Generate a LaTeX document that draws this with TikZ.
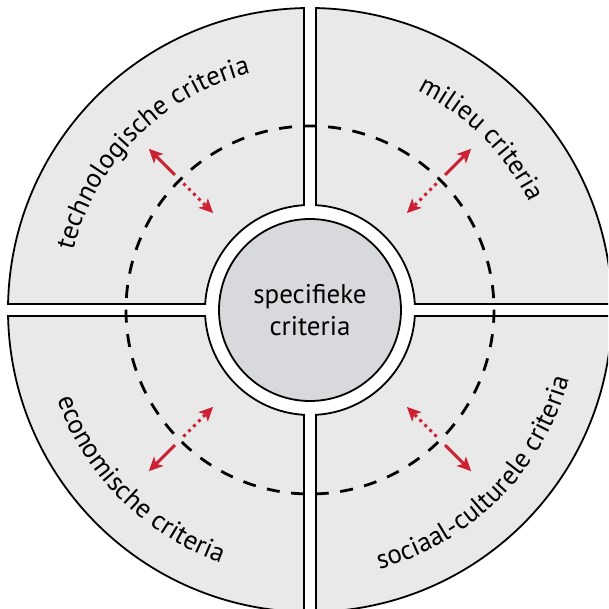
\documentclass[tikz,border=0pt]{standalone}
\usepackage{fontspec}
\setmainfont{PT Sans}
\usetikzlibrary{arrows.meta, decorations.text}
\definecolor{segmentgrey}{RGB}{233,233,233}
\definecolor{coregrey}{RGB}{216,217,220}
\definecolor{arrowred}{RGB}{204,33,51}
\tikzstyle{quadrant} = [draw=black, line width=1.8pt, fill=segmentgrey]
\tikzstyle{core} = [circle, minimum size=182pt, draw=black, line width=1.8pt, fill=coregrey, align=center, font=\fontsize{27}{32}\selectfont]
\tikzstyle{ring} = [line width=2.8pt, dash pattern=on 13pt off 11.6pt, dash phase=12.7pt]
\tikzstyle{arrow} = [line width=3pt, arrowred, -{Stealth[length=14pt, width=13pt, inset=3.5pt]}]
\tikzstyle{dotarrow} = [arrow, dash pattern=on 3pt off 4pt]
\tikzstyle{curvedtext} = [decorate, decoration={text along path, text align=center, text format delimiters={|}{|}}]

\begin{document}
\begin{tikzpicture}

\useasboundingbox (-310pt,-299pt) rectangle (298pt,310pt);
\clip (-310pt,-299pt) rectangle (298pt,310pt);

% four segments
\draw [quadrant] (88.862:302pt) arc[start angle=88.862, end angle=1.138, radius=302pt] -- (3.276:105pt) arc[start angle=3.276, end angle=86.724, radius=105pt] -- cycle;
\draw [quadrant] (178.862:302pt) arc[start angle=178.862, end angle=91.138, radius=302pt] -- (93.276:105pt) arc[start angle=93.276, end angle=176.724, radius=105pt] -- cycle;
\draw [quadrant] (268.862:302pt) arc[start angle=268.862, end angle=181.138, radius=302pt] -- (183.276:105pt) arc[start angle=183.276, end angle=266.724, radius=105pt] -- cycle;
\draw [quadrant] (358.862:302pt) arc[start angle=358.862, end angle=271.138, radius=302pt] -- (273.276:105pt) arc[start angle=273.276, end angle=356.724, radius=105pt] -- cycle;

\node (centre) [core] at (0,0) {specifieke\\criteria};

\draw [ring] (0,0) circle[radius=184pt];

% texts along the rim
\path [curvedtext, decoration={text={|\fontsize{27}{30}\selectfont|technologische criteria}}] (180:244pt) arc[start angle=180, end angle=90, radius=244pt];
\path [curvedtext, decoration={text={|\fontsize{27}{30}\selectfont|milieu criteria}}] (90:244pt) arc[start angle=90, end angle=0, radius=244pt];
\path [curvedtext, decoration={text={|\fontsize{27}{30}\selectfont|economische criteria}}] (180:268pt) arc[start angle=180, end angle=270, radius=268pt];
\path [curvedtext, decoration={text={|\fontsize{27}{30}\selectfont|sociaal-culturele criteria}}] (270:268pt) arc[start angle=270, end angle=360, radius=268pt];

% arrow ends
\coordinate (tlstart) at (135:191pt);
\coordinate (tlout) at (135:228pt);
\coordinate (tldot) at (135:179pt);
\coordinate (tlin) at (135:137pt);
\coordinate (trstart) at (45:191pt);
\coordinate (trout) at (45:228pt);
\coordinate (trdot) at (45:179pt);
\coordinate (trin) at (45:137pt);
\coordinate (blstart) at (225:191pt);
\coordinate (blout) at (225:228pt);
\coordinate (bldot) at (225:179pt);
\coordinate (blin) at (225:137pt);
\coordinate (brstart) at (315:191pt);
\coordinate (brout) at (315:228pt);
\coordinate (brdot) at (315:179pt);
\coordinate (brin) at (315:137pt);

\draw [arrow] (tlstart) -- (tlout);
\draw [dotarrow] (tldot) -- (tlin);
\draw [arrow] (trstart) -- (trout);
\draw [dotarrow] (trdot) -- (trin);
\draw [arrow] (blstart) -- (blout);
\draw [dotarrow] (bldot) -- (blin);
\draw [arrow] (brstart) -- (brout);
\draw [dotarrow] (brdot) -- (brin);

\end{tikzpicture}
\end{document}
